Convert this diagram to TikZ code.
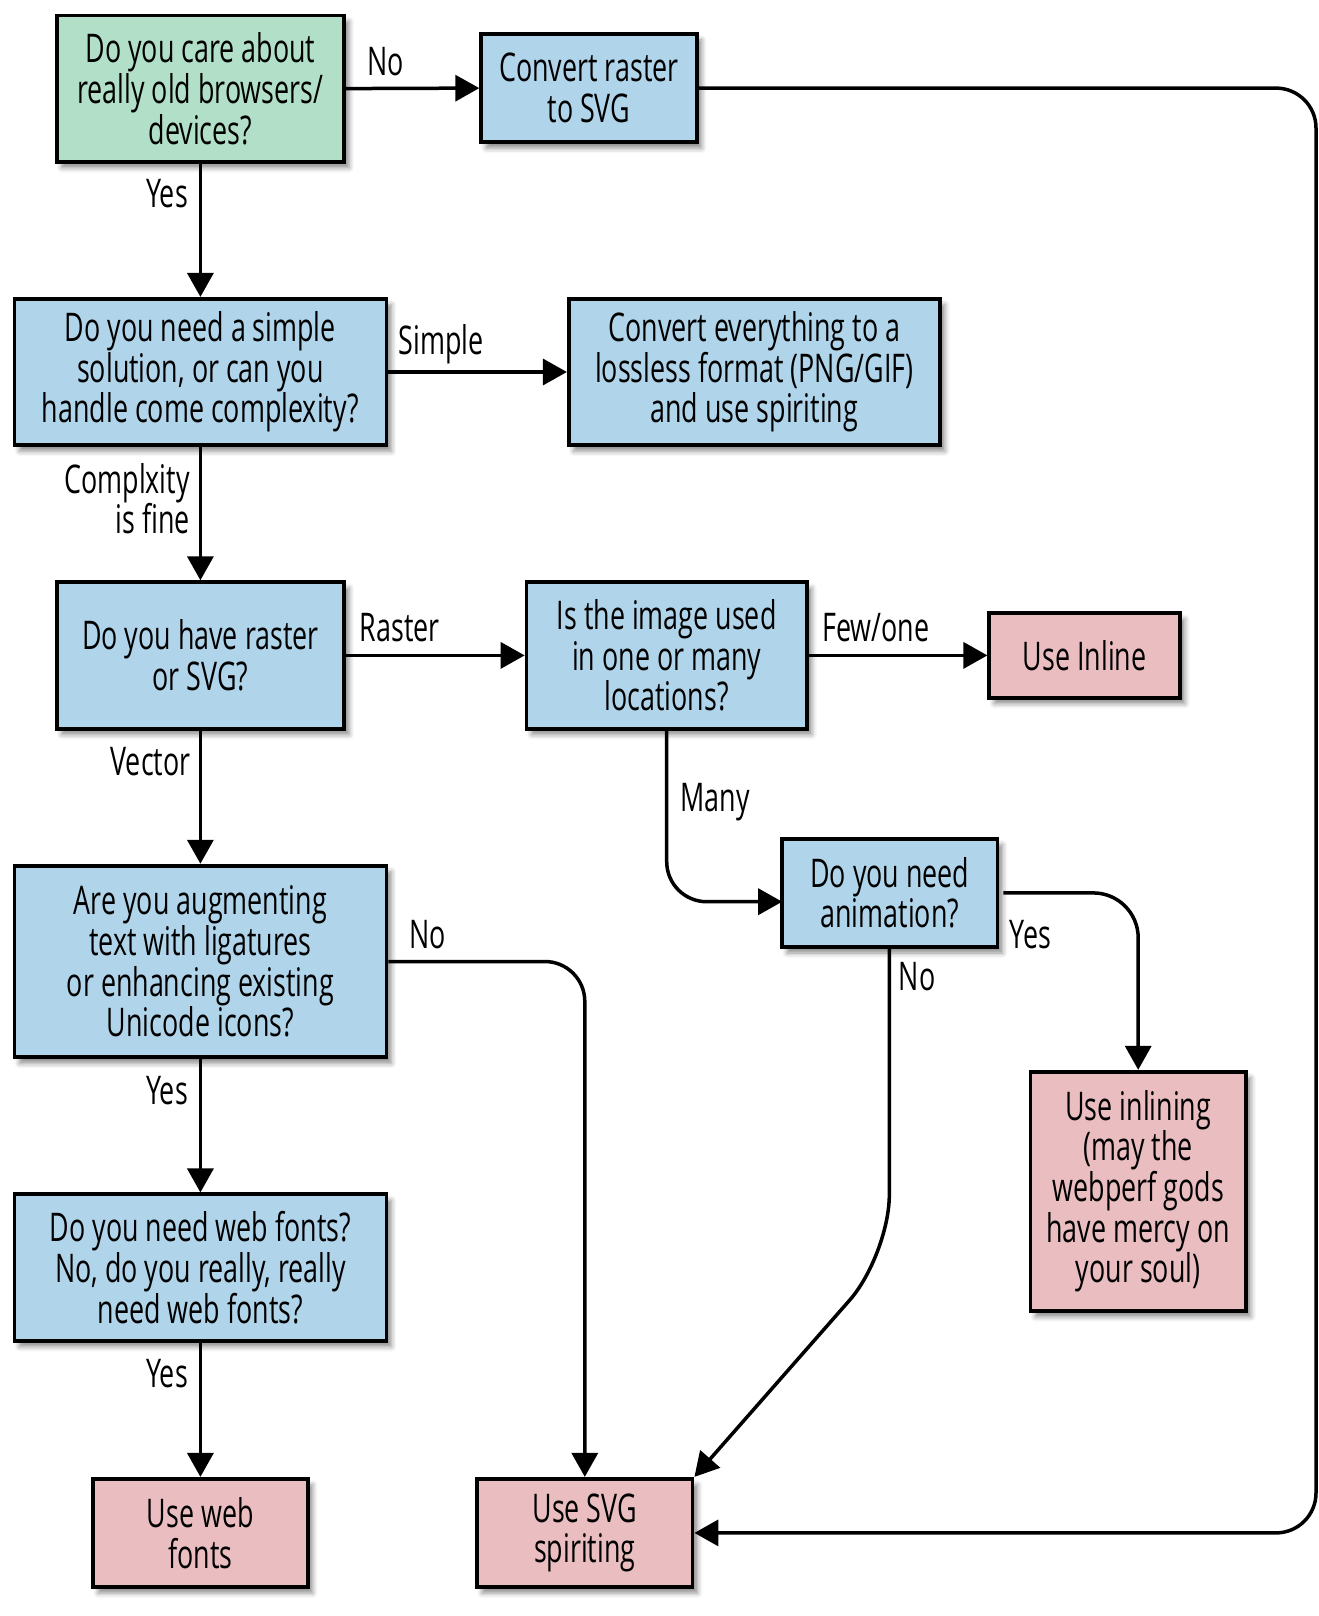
\documentclass[tikz,border=0pt]{standalone}
\usepackage{fontspec}
\setmainfont{Open Sans}[FakeStretch=0.68]
\usetikzlibrary{arrows.meta,shadows.blur}
\definecolor{cgreen}{RGB}{178,223,200}
\definecolor{cblue}{RGB}{176,212,234}
\definecolor{cpink}{RGB}{234,190,192}
\tikzset{
  box/.style={draw=black,line width=3.8pt,inner sep=0pt,align=center,
    blur shadow={shadow xshift=5pt,shadow yshift=-6pt,shadow blur radius=5pt,shadow opacity=45}},
  qgreen/.style={box,fill=cgreen},
  qblue/.style={box,fill=cblue},
  qpink/.style={box,fill=cpink},
  conn/.style={line width=3.5pt,-{Triangle[length=24pt,width=26pt]}},
  lbl/.style={inner sep=0pt}
}
\begin{document}
\begin{tikzpicture}[x=1pt,y=-1pt,font=\fontsize{39.5}{40.7}\selectfont]
\useasboundingbox (0,0) rectangle (1318,1616);
% boxes
\node[qgreen,minimum width=287.5pt,minimum height=146.3pt] (b1) at (200.4,88.6) {Do you care about\\really old browsers/\\devices?};
\node[qblue,minimum width=215.4pt,minimum height=108.2pt] (b2) at (588.9,88.1) {Convert raster\\to SVG};
\node[qblue,minimum width=372pt,minimum height=146.4pt] (b3) at (200.4,372) {Do you need a simple\\solution, or can you\\handle come complexity?};
\node[qblue,minimum width=371pt,minimum height=146.4pt] (b4) at (754.3,372) {Convert everything to a\\lossless format (PNG/GIF)\\and use spiriting};
\node[qblue,minimum width=287.5pt,minimum height=146.4pt] (b5) at (200.4,655.4) {Do you have raster\\or SVG?};
\node[qblue,minimum width=280.3pt,minimum height=146.4pt] (b6) at (666.7,655.4) {Is the image used\\in one or many\\locations?};
\node[qpink,minimum width=190.6pt,minimum height=84.5pt] (b7) at (1084.6,655.4) {Use Inline};
\node[qblue,minimum width=215.3pt,minimum height=108.2pt] (b8) at (889.8,892.9) {Do you need\\animation?};
\node[qblue,minimum width=372pt,minimum height=191.7pt] (b9) at (200.4,961.5) {Are you augmenting\\text with ligatures\\or enhancing existing\\Unicode icons?};
\node[qpink,minimum width=215.4pt,minimum height=239.1pt] (b10) at (1138.2,1191.3) {Use inlining\\(may the\\webperf gods\\have mercy on\\your soul)};
\node[qblue,minimum width=372pt,minimum height=146.3pt] (b11) at (200.4,1267.5) {Do you need web fonts?\\No, do you really, really\\need web fonts?};
\node[qpink,minimum width=214.4pt,minimum height=108.2pt] (b12) at (200.4,1532.9) {Use web\\fonts};
\node[qpink,minimum width=215.4pt,minimum height=108.2pt] (b13) at (584.8,1532.9) {Use SVG\\spiriting};
% coordinates
\coordinate (r1) at (1316,88.1);
\coordinate (r2) at (1316,1532.9);
\coordinate (c9) at (584.8,961.5);
\coordinate (c6) at (666.7,901.7);
\coordinate (c6e) at (782.2,901.7);
\coordinate (c8) at (1138.2,892.9);
\coordinate (c8n) at (889.3,1255);
% connectors
\draw[conn] (b1.east) -- (b2.west);
\draw[conn] (b1.south) -- (b3.north);
\draw[conn,rounded corners=40pt] (b2.east) -- (r1) -- (r2) -- (b13.east);
\draw[conn] (b3.east) -- (b4.west);
\draw[conn] (b3.south) -- (b5.north);
\draw[conn] (b5.east) -- (b6.west);
\draw[conn] (b6.east) -- (b7.west);
\draw[conn,rounded corners=40pt] (b6.south) -- (c6) -- (c6e);
\draw[conn,rounded corners=45pt,shorten <=4pt] (b8.east) -- (c8) -- (b10.north);
\draw[conn,rounded corners=60pt] (b8.south -| c8n) -- (c8n) -- (b13.north east);
\draw[conn] (b5.south) -- (b9.north);
\draw[conn,rounded corners=40pt] (b9.east) -- (c9) -- (b13.north);
\draw[conn] (b9.south) -- (b11.north);
\draw[conn] (b11.south) -- (b12.north);
% labels
\node[lbl] (l1) at (385.4,61.8) {No};
\node[lbl] (l2) at (167,193.7) {Yes};
\node[lbl] (l3) at (441,344.2) {Simple};
\node[lbl,anchor=east,align=right] (l4) at (190,498.8) {Complxity\\is fine};
\node[lbl] (l5) at (399.8,627.6) {Raster};
\node[lbl] (l6) at (876,627.6) {Few/one};
\node[lbl] (l7) at (150.5,761.5) {Vector};
\node[lbl] (l8) at (715.2,801.7) {Many};
\node[lbl] (l9) at (427.7,934.7) {No};
\node[lbl] (l10) at (1030.5,934.7) {Yes};
\node[lbl] (l11) at (917.1,977) {No};
\node[lbl] (l12) at (167,1090.3) {Yes};
\node[lbl] (l13) at (167,1373.6) {Yes};
\end{tikzpicture}
\end{document}
